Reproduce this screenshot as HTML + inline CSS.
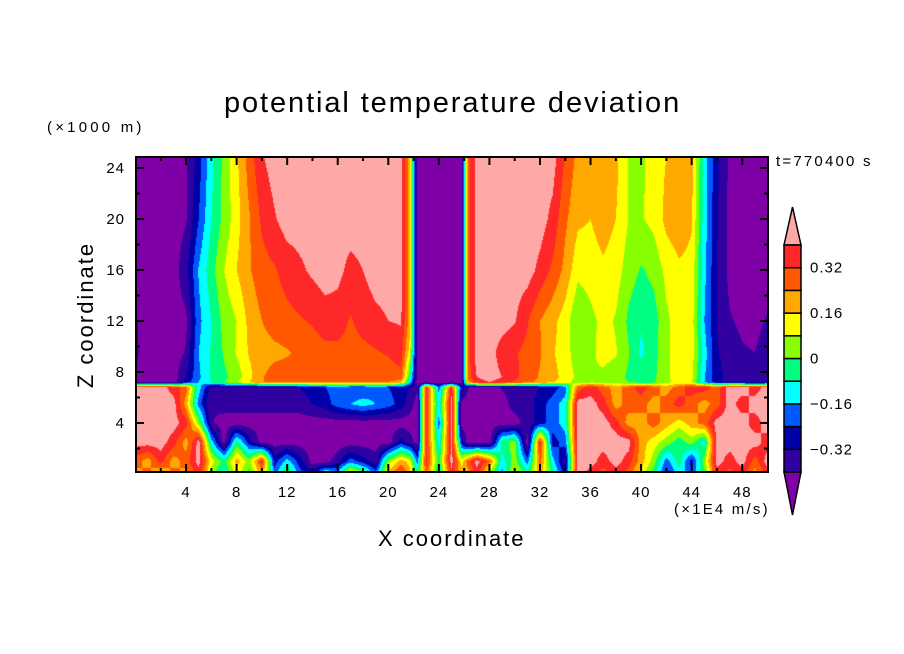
<!DOCTYPE html>
<html><head><meta charset="utf-8">
<style>
html,body{margin:0;padding:0;background:#fff;}
body{width:904px;height:654px;position:relative;overflow:hidden;font-family:"Liberation Sans",sans-serif;color:#000;}
.t{position:absolute;white-space:nowrap;}
</style></head>
<body>
<div class="t" style="left:224px;top:87px;font-size:29px;letter-spacing:1.9px;">potential temperature deviation</div>
<div class="t" style="left:47px;top:119px;font-size:15px;letter-spacing:3.2px;">(×1000 m)</div>
<div class="t" style="left:776px;top:153px;font-size:15px;letter-spacing:2.2px;">t=770400 s</div>
<div class="t" style="left:674px;top:501px;font-size:15px;letter-spacing:2.2px;">(×1E4 m/s)</div>
<div class="t" style="left:378px;top:526px;font-size:22px;letter-spacing:2px;">X coordinate</div>
<div class="t" style="left:86px;top:315px;font-size:22px;letter-spacing:2px;transform:translate(-50%,-50%) rotate(-90deg);">Z coordinate</div>
<canvas id="field" width="632" height="315" style="position:absolute;left:136px;top:157px;"></canvas>
<svg id="axes" width="904" height="654" style="position:absolute;left:0;top:0;"></svg>
<script>
// contour levels (K): boundaries -0.40 .. 0.40 step 0.08
const levels = [-0.40,-0.32,-0.24,-0.16,-0.08,0,0.08,0.16,0.24,0.32,0.40];
const colors = ["#8000A8","#3000A0","#0000A8","#0058FF","#00FFFF","#00FF80","#88FF00","#FFFF00","#FFA800","#FF5800","#FF2828","#FFA8A8"];
const xTicks = [4,8,12,16,20,24,28,32,36,40,44,48];
const zTicks = [4,8,12,16,20,24];
const cbLabels = ["0.32","0.16","0","\u22120.16","\u22120.32"];
const cbLabelVals = [0.32,0.16,0,-0.16,-0.32];
// grid coordinates (x in 1E4, z in 1000 m)
const xs = [0,1,2,3,4,5,6,7,8,9,10,11,12,13,14,15,16,17,18,19,20,21,21.7,22.3,23,24,25,25.8,26.3,27,28,29,30,31,32,33,34,35,36,37,38,39,40,41,42,43,44,45,46,47,48,49,50];
const zs = [0,1,2.5,4,5.5,6.8,7.2,7.6,9.5,12,16,20,24.9];
// anomaly values in level units (value = -0.44 + 0.08*u), one row per z
const r_z0   = [8,9,7,9,8,10,6,4,7,5,8,3,6,3,2,5,4,8,6,3,8,10,8,5,9,4,10,8,8,10,6,3,7,5,8,5,2,11,10,9,10,9,7,5,2,4,3,5,10,9,10,8,10];
const r_z1   = [9,8,10,8,9,11,7,5,8,6,10,2,4,2,0,0,1,3,2,1,6,8,7,3,10,5,11,7,9,11,9,4,6,3,9,4,1,11,11,10,11,10,8,6,3,5,2,6,11,10,11,9,11];
const r_z25  = [11,11,11,10,8,11,4,0,5,2,0,0,0,0,0,0,0,0,0,0,0,2,1,0,10,4,11,2,0,0,0,5,6,0,10,2,3,11,11,11,11,11,8,7,6,5,6,4,11,11,11,11,10];
const r_z4   = [11,11,11,11,10,6,0.6,0,0,0,0,0,0,0,0,0,0,0,0,0,0,0,0,0,10,3,11,0,0,0,0,0,0,1,2,3,4,11,11,11,10,8,8,9,8,7,8,9,11,11,11,10,11];
const r_z55  = [11,11,11,11,8,3,0.6,1,1,1,1,1,1,1,1.5,2,3,3.5,4,3.5,3,2,1,0,10,4,11,0,0,0,0,0,1,1,2,3,4,11,11,10,8,9,9,8,9,10,9,8,9,11,10,11,11];
const r_z68  = [11,11,11,10,9,4,1,1,1,1,1,1,1,1.5,2,2.5,3,2.5,2.5,3,2.5,2,1.5,0.6,10,3,10,2,0.6,0,0,0.6,1,1,1.5,2,3,9,10,9,8,9,10,9,8,9,10,10,9,11,11,10,11];
const r_z72  = [0,0,0,0,2,3.5,4.6,5.5,6.5,7.5,8.5,8.5,8.5,8.5,8.5,8.5,8.5,8.5,8.5,8.5,8.5,8,4,0,0,0,0,0,8,10,10.5,10,9.3,8.8,8.2,7.6,7,6,6.3,6.3,6.1,5.5,5,5.3,6.3,6.8,6.6,3.5,1.8,1,1,1,1];
const r_z76  = [0.5,0,0,0,1.5,3.3,4.6,5.3,5.9,7.2,8.4,9,9,9,9.2,9.2,9,9,9,9,9,9.2,5,0,0,0,0,0,9,10.5,11,10.5,9.8,9,8.4,7.8,7.2,6.2,6.5,6.3,6,5.3,5,5.3,6.3,7,6.8,3.6,1.8,1.2,1,1,1];
const r_z95  = [0.6,0.2,0,0,0.6,3.5,4.6,5.6,6.6,7.6,8,8.2,8.4,8.7,9,9.2,9.2,9.1,9.2,9.4,9.6,10,7,0,0,0,0,0,9,11,11,10,9.6,9.2,8.6,7.6,7,5.8,6.3,6.8,6.6,5.6,4.3,5.1,6.3,7,7,4,1.6,1,0.6,0.5,1];
const r_z12  = [0.6,0,0,0,0.3,3.2,4.5,5.8,6.5,7.8,8.5,9,9.2,9.4,9.6,10,10,9.4,9.9,10.2,10.5,10.6,8,0,0,0,0,0,9,11,11,11,10.6,9.6,8.5,7.8,7,5.5,6.2,6.8,6.4,5.3,4.6,5,6.3,7,7,3.5,1.5,0.6,0.3,0.2,0.6];
const r_z16  = [0,0,0,0,1.2,3.6,5.1,6.5,7.5,8.4,9.1,9.4,9.9,10.3,10.7,11,10.8,10.2,10.5,11,11,11,8,0,0,0,0,0,9,11,11,11,11,11,10.2,9.3,8.2,6.8,7,7.3,7,6,5.4,5.8,6.8,7.3,7.2,3.8,1.5,0.2,0,0,0];
const r_z20  = [0,0,0,0,0.4,2.5,4.5,5.8,7.1,8.4,9.7,10.4,11,11,11,11,11,11,11,11,11,11,8,0,0,0,0,0,9,11,11,11,11,11,11,10.2,8.7,7.7,7.5,8,7.5,6.5,6.4,6.8,7.8,8.2,7.6,4,1.6,0.2,0,0,0];
const r_z249 = [0,0,0,0,0.3,2,4.2,5.8,7.3,9,10.4,11,11,11,11,11,11,11,11,11,11,11,8,0,0,0,0,0,9,11,11,11,11,11,11,11,9.4,8.2,8,8,7.8,6.4,6.3,7,7.5,8.2,8,4,1.8,0.3,0,0,0];
const rows = [r_z0,r_z1,r_z25,r_z4,r_z55,r_z68,r_z72,r_z76,r_z95,r_z12,r_z16,r_z20,r_z249];

// axis functions
const X0=135.5, XS=12.64, Y0=474, ZS=12.75;
function px(x){return X0+XS*x;}
function py(z){return Y0-ZS*z;}
function ix(p){return (p-X0)/XS;}
function iz(p){return (Y0-p)/ZS;}
function locate(arr,v){let i=0;while(i<arr.length-2&&v>arr[i+1])i++;let t=(v-arr[i])/(arr[i+1]-arr[i]);return [i,Math.max(0,Math.min(1,t))];}

// draw field
const cv=document.getElementById('field');const ctx=cv.getContext('2d');
const W=cv.width,H=cv.height;const img=ctx.createImageData(W,H);
const rgb=colors.map(c=>[parseInt(c.substr(1,2),16),parseInt(c.substr(3,2),16),parseInt(c.substr(5,2),16)]);
for(let j=0;j<H;j++){const z=iz(157+j+0.5);const [zi,zt]=locate(zs,z);
 for(let i=0;i<W;i++){const x=ix(136+i+0.5);const [xi,xt]=locate(xs,x);
  const a=rows[zi][xi],b=rows[zi][xi+1],c=rows[zi+1][xi],d=rows[zi+1][xi+1];
  const u=(a*(1-xt)+b*xt)*(1-zt)+(c*(1-xt)+d*xt)*zt;
  const v=-0.44+0.08*u;let k=0;while(k<levels.length&&v>=levels[k])k++;
  const o=(j*W+i)*4;img.data[o]=rgb[k][0];img.data[o+1]=rgb[k][1];img.data[o+2]=rgb[k][2];img.data[o+3]=255;}}
ctx.putImageData(img,0,0);

// axes
const NS='http://www.w3.org/2000/svg';const svg=document.getElementById('axes');
function mk(tag,attrs){const e=document.createElementNS(NS,tag);for(const k in attrs)e.setAttribute(k,attrs[k]);svg.appendChild(e);return e;}
const frame=mk('rect',{x:136,y:157,width:632,height:315,fill:'none',stroke:'#000','stroke-width':2});


for(let x=2;x<50;x+=2){const major=x%4===0;const L=major?8:4;
 const t1=mk('line',{x1:px(x),x2:px(x),y1:472,y2:472-L,stroke:'#000','stroke-width':2});
 
 
 const t2=mk('line',{x1:px(x),x2:px(x),y1:157,y2:157+L,stroke:'#000','stroke-width':2});
 
 }
xTicks.forEach(x=>{const t=mk('text',{x:px(x),y:497,'text-anchor':'middle','font-size':15,'letter-spacing':1,'font-family':'Liberation Sans, sans-serif'});t.textContent=x;
 
 });
for(let z=2;z<=24;z+=2){const major=z%4===0;const L=major?8:4;
 const t1=mk('line',{x1:136,x2:136+L,y1:py(z),y2:py(z),stroke:'#000','stroke-width':2});
 
 
 const t2=mk('line',{x1:768,x2:768-L,y1:py(z),y2:py(z),stroke:'#000','stroke-width':2});
 
 }
zTicks.forEach(z=>{const t=mk('text',{x:125,y:py(z)+5,'text-anchor':'end','font-size':15,'letter-spacing':1,'font-family':'Liberation Sans, sans-serif'});t.textContent=z;
 
 });

// colorbar
const CBX=784,CBW=17,CBTOP=245,CBBOT=472;
function cby(v){return CBBOT-(v+0.40)/0.80*(CBBOT-CBTOP);}
const up=mk('polygon',{points:`${CBX},${CBTOP} ${CBX+CBW/2},207 ${CBX+CBW},${CBTOP}`,fill:colors[11],stroke:'#000','stroke-width':1.5});


const dn=mk('polygon',{points:`${CBX},${CBBOT} ${CBX+CBW/2},515 ${CBX+CBW},${CBBOT}`,fill:colors[0],stroke:'#000','stroke-width':1.5});


for(let k=0;k<levels.length-1;k++){const y1=cby(levels[k+1]),y2=cby(levels[k]);
 const r=mk('rect',{x:CBX,y:y1,width:CBW,height:y2-y1,fill:colors[k+1],stroke:'#000','stroke-width':1.5});
 
 }
cbLabelVals.forEach((v,i)=>{const t=mk('text',{x:810,y:cby(v)+5,'font-size':15,'letter-spacing':1,'font-family':'Liberation Sans, sans-serif'});t.textContent=cbLabels[i];
 
 });
</script>
</body></html>
